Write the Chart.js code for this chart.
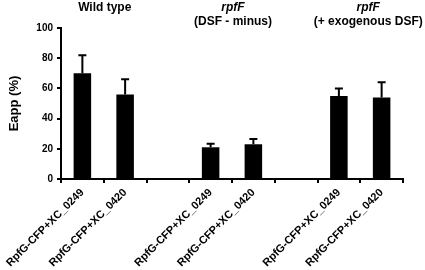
<!DOCTYPE html>
<html>
<head>
<meta charset="utf-8">
<script src="https://cdn.jsdelivr.net/npm/chart.js@4.4.1/dist/chart.umd.min.js"></script>
<style>
html,body{margin:0;padding:0;background:#fff;}
#wrap{width:425px;height:270px;position:relative;}
</style>
</head>
<body>
<div id="wrap"><canvas id="c" width="425" height="270"></canvas></div>
<script>
const categories = ['RpfG-CFP+XC_0249','RpfG-CFP+XC_0420','','RpfG-CFP+XC_0249','RpfG-CFP+XC_0420','','RpfG-CFP+XC_0249','RpfG-CFP+XC_0420'];
const eappValues = [70, 56, null, 21, 23, null, 55, 54];
const eappErrors = [12, 10, null, 2.4, 3.5, null, 5, 10];
const yMin = 0, yMax = 100, yStep = 20;
const groupIndices = [[0,1],[3,4],[6,7]];
const groupTitleTop = ['Wild type', 'rpfF', 'rpfF'];
const groupTitleTopItalic = [false, true, true];
const groupTitleBottom = ['', '(DSF - minus)', '(+ exogenous DSF)'];

const FONT = "'Liberation Sans', Arial, sans-serif";

const errorBars = {
  id: 'errorBars',
  afterDatasetsDraw(chart) {
    const ctx = chart.ctx, y = chart.scales.y, x = chart.scales.x;
    ctx.save();
    ctx.strokeStyle = '#000';
    ctx.lineWidth = 2;
    eappValues.forEach((v, i) => {
      if (v == null || eappErrors[i] == null) return;
      const px = x.getPixelForValue(i);
      const y0 = y.getPixelForValue(v);
      const y1 = y.getPixelForValue(v + eappErrors[i]);
      ctx.beginPath();
      ctx.moveTo(px, y0);
      ctx.lineTo(px, y1);
      ctx.moveTo(px - 4, y1);
      ctx.lineTo(px + 4, y1);
      ctx.stroke();
    });
    ctx.restore();
  }
};

const groupTitles = {
  id: 'groupTitles',
  afterDraw(chart) {
    const ctx = chart.ctx, x = chart.scales.x;
    const shifts = [1, 1, 8];
    ctx.save();
    ctx.fillStyle = '#000';
    ctx.textAlign = 'center';
    ctx.textBaseline = 'middle';
    groupIndices.forEach((g, k) => {
      const cx = (x.getPixelForValue(g[0]) + x.getPixelForValue(g[1])) / 2 + shifts[k];
      ctx.font = (groupTitleTopItalic[k] ? 'italic ' : '') + 'bold 12px ' + FONT;
      ctx.fillText(groupTitleTop[k], cx, 8);
      if (groupTitleBottom[k]) {
        ctx.font = 'bold 12px ' + FONT;
        ctx.fillText(groupTitleBottom[k], cx, 22);
      }
    });
    ctx.restore();
  }
};

new Chart(document.getElementById('c'), {
  type: 'bar',
  data: {
    labels: categories,
    datasets: [{
      data: eappValues,
      backgroundColor: '#000',
      borderWidth: 0,
      categoryPercentage: 1,
      barPercentage: 0.41
    }]
  },
  options: {
    responsive: false,
    animation: false,
    layout: { padding: { top: 28, right: 22, left: 0, bottom: 0 } },
    plugins: { legend: { display: false }, tooltip: { enabled: false } },
    scales: {
      x: {
        offset: true,
        grid: { offset: true, drawOnChartArea: false, drawTicks: true, tickLength: 4, color: '#000', lineWidth: 2 },
        border: { color: '#000', width: 2 },
        ticks: {
          autoSkip: false, maxRotation: 45, minRotation: 45, color: '#000',
          padding: 3,
          font: { family: FONT, size: 11, weight: 'bold' }
        },
        afterFit(s) { s.height = 91; s.paddingLeft = 0; s.paddingRight = 0; }
      },
      y: {
        min: yMin, max: yMax,
        grid: { drawOnChartArea: false, drawTicks: true, tickLength: 4, color: '#000', lineWidth: 2 },
        border: { color: '#000', width: 2 },
        ticks: { stepSize: yStep, color: '#000', padding: 4, font: { family: FONT, size: 10, weight: 'bold' } },
        title: { display: true, text: 'Eapp (%)', color: '#000', padding: { top: 7, bottom: 0 }, font: { family: FONT, size: 13, weight: 'bold' } },
        afterFit(s) { s.width = 61; s.paddingTop = 0; s.paddingBottom = 0; }
      }
    }
  },
  plugins: [errorBars, groupTitles]
});
</script>
</body>
</html>
